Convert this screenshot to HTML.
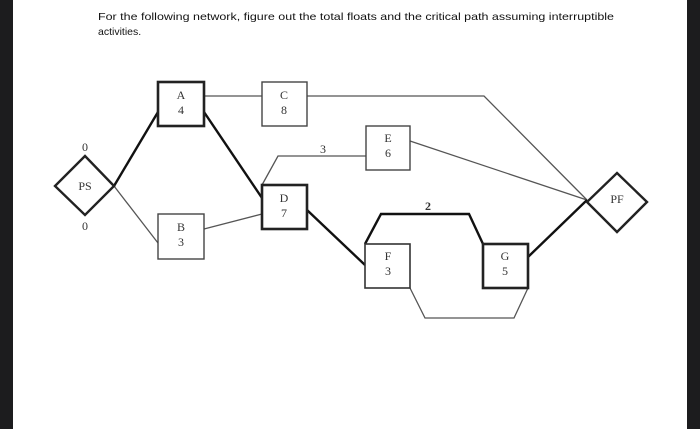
<!DOCTYPE html>
<html><head><meta charset="utf-8"><style>
html,body{margin:0;padding:0;background:#fff;}
svg{display:block;}
</style></head><body>
<svg width="700" height="431" viewBox="0 0 700 431" xmlns="http://www.w3.org/2000/svg">
<rect x="0" y="0" width="700" height="431" fill="#fff"/>
<rect x="0" y="0" width="13" height="429" fill="#1c1c1e"/>
<rect x="687" y="0" width="13" height="429" fill="#1c1c1e"/>
<g font-family="Liberation Sans, sans-serif" font-size="10.5" fill="#111">
<text x="98" y="20" textLength="516" lengthAdjust="spacingAndGlyphs">For the following network, figure out the total floats and the critical path assuming interruptible</text>
<text x="98" y="35">activities.</text>
</g>
<g fill="none" stroke="#555" stroke-width="1.3">
<line x1="114" y1="186" x2="158" y2="243"/>
<line x1="204" y1="96" x2="262" y2="96"/>
<polyline points="307,96 484,96 587,200"/>
<line x1="204" y1="229" x2="262" y2="214"/>
<polyline points="262,185 278,156 366,156"/>
<line x1="410" y1="141" x2="587" y2="200"/>
<polyline points="410,288 425,318 514,318 528,288"/>
</g>
<g fill="none" stroke="#111" stroke-width="2.4">
<line x1="114" y1="186" x2="158" y2="112"/>
<line x1="204" y1="112" x2="262" y2="198"/>
<line x1="307" y1="210" x2="365" y2="265"/>
<polyline points="365,244 381,214 469,214 483,244"/>
<line x1="528" y1="257" x2="587" y2="200"/>
</g>
<g fill="#fff" stroke="#222">
<polygon points="85,156 114,186 85,215 55,186" stroke-width="2.4"/>
<polygon points="617,173 647,202 617,232 587,202" stroke-width="2.4"/>
<rect x="158" y="82" width="46" height="44" stroke-width="2.6"/>
<rect x="262" y="82" width="45" height="44" stroke-width="1.4" stroke="#444"/>
<rect x="366" y="126" width="44" height="44" stroke-width="1.4" stroke="#444"/>
<rect x="262" y="185" width="45" height="44" stroke-width="2.6"/>
<rect x="158" y="214" width="46" height="45" stroke-width="1.4" stroke="#444"/>
<rect x="365" y="244" width="45" height="44" stroke-width="1.6" stroke="#333"/>
<rect x="483" y="244" width="45" height="44" stroke-width="2.6"/>
</g>
<g font-family="Liberation Serif, serif" font-size="12" fill="#333" text-anchor="middle">
<text x="85" y="190">PS</text>
<text x="617" y="203">PF</text>
<text x="85" y="151">0</text>
<text x="85" y="230">0</text>
<text x="181" y="99">A</text><text x="181" y="114">4</text>
<text x="284" y="99">C</text><text x="284" y="114">8</text>
<text x="388" y="142">E</text><text x="388" y="157">6</text>
<text x="284" y="202">D</text><text x="284" y="217">7</text>
<text x="181" y="231">B</text><text x="181" y="246">3</text>
<text x="388" y="260">F</text><text x="388" y="275">3</text>
<text x="505" y="260">G</text><text x="505" y="275">5</text>
<text x="323" y="153">3</text>
<text x="428" y="210" font-weight="bold">2</text>
</g>
</svg>
</body></html>
